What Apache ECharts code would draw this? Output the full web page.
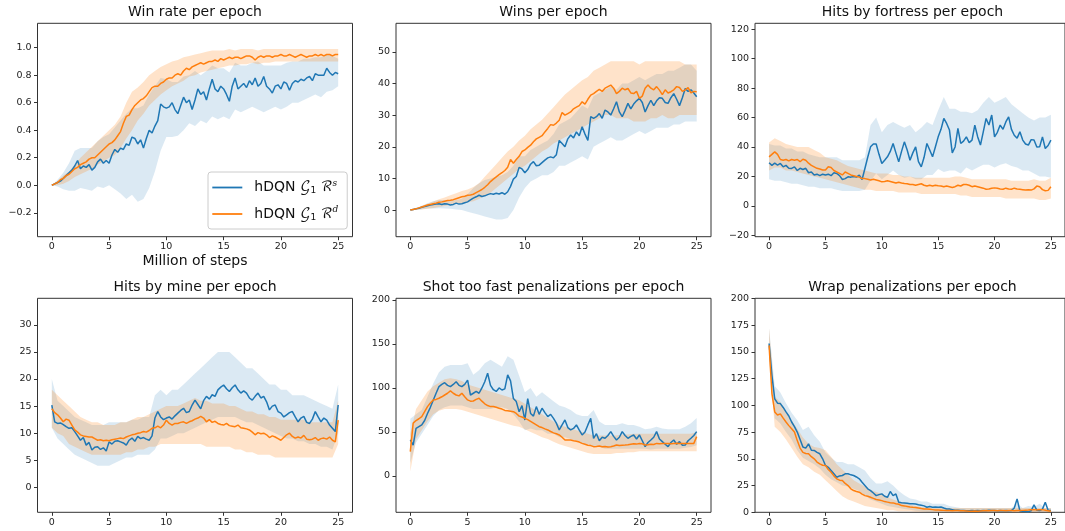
<!DOCTYPE html>
<html><head><meta charset="utf-8">
<script src="https://cdn.jsdelivr.net/npm/echarts@6/dist/echarts.min.js"></script>
<style>html,body{margin:0;padding:0;background:#fff}#c{width:1065px;height:531px}</style>
</head><body><div id="c"></div>
<script>
// x sampling (million of steps): means every 0.25, bands every 0.5
const STEP_MEAN = 0.25, STEP_BAND = 0.5;
const xTicks = [0, 5, 10, 15, 20, 25];
const titles = ['Win rate per epoch', 'Wins per epoch', 'Hits by fortress per epoch',
  'Hits by mine per epoch', 'Shot too fast penalizations per epoch', 'Wrap penalizations per epoch'];
const xLabel = 'Million of steps';
const seriesNames = ['S', 'D'];

// ---- Win rate ----
const winS = [0,0.01,0.02,0.03,0.05,0.07,0.09,0.11,0.14,0.18,0.12,
 0.14,0.13,0.15,0.11,0.13,0.17,0.19,0.16,0.18,0.16,
 0.22,0.26,0.24,0.27,0.26,0.3,0.29,0.35,0.34,0.3,
 0.33,0.27,0.34,0.4,0.38,0.43,0.47,0.59,0.57,0.56,
 0.57,0.6,0.55,0.52,0.58,0.64,0.6,0.62,0.55,0.62,
 0.7,0.66,0.68,0.62,0.7,0.77,0.7,0.68,0.72,0.7,
 0.66,0.61,0.72,0.78,0.7,0.72,0.74,0.71,0.76,0.73,
 0.78,0.72,0.74,0.79,0.72,0.7,0.67,0.72,0.73,0.7,
 0.75,0.74,0.69,0.74,0.76,0.75,0.77,0.76,0.78,0.79,
 0.76,0.81,0.8,0.8,0.8,0.85,0.82,0.8,0.82,0.81];
const winD = [0,0.01,0.02,0.04,0.05,0.07,0.08,0.1,0.12,0.13,0.15,
 0.16,0.17,0.19,0.2,0.2,0.22,0.24,0.26,0.28,0.3,
 0.31,0.33,0.36,0.39,0.45,0.5,0.51,0.55,0.58,0.6,
 0.62,0.63,0.65,0.68,0.71,0.72,0.72,0.74,0.75,0.77,
 0.78,0.78,0.8,0.81,0.8,0.83,0.85,0.84,0.86,0.87,
 0.88,0.89,0.88,0.89,0.9,0.9,0.91,0.9,0.92,0.91,
 0.92,0.93,0.92,0.93,0.93,0.92,0.93,0.94,0.94,0.93,
 0.91,0.93,0.94,0.93,0.94,0.94,0.93,0.94,0.94,0.95,
 0.94,0.94,0.95,0.94,0.93,0.94,0.95,0.94,0.93,0.94,
 0.94,0.95,0.94,0.95,0.94,0.95,0.95,0.94,0.95,0.95];
const winS_lo = [0,-0.01,-0.03,-0.04,-0.04,-0.02,-0.03,-0.04,-0.01,-0.02,
 0,-0.03,-0.06,-0.1,-0.07,-0.12,-0.1,-0.02,0.1,0.25,
 0.35,0.35,0.36,0.4,0.45,0.43,0.47,0.45,0.5,0.48,
 0.5,0.48,0.55,0.53,0.55,0.57,0.55,0.53,0.55,0.57,
 0.55,0.57,0.6,0.6,0.62,0.64,0.66,0.64,0.68,0.69,0.72];
const winS_hi = [0,0.04,0.09,0.16,0.25,0.27,0.27,0.27,0.32,0.35,
 0.37,0.42,0.47,0.52,0.56,0.56,0.58,0.66,0.72,0.78,
 0.77,0.75,0.75,0.79,0.8,0.83,0.8,0.83,0.87,0.85,
 0.85,0.82,0.89,0.87,0.87,0.89,0.9,0.87,0.87,0.87,
 0.87,0.89,0.9,0.9,0.92,0.92,0.93,0.93,0.95,0.94,0.92];
const winD_lo = [0,0,0.01,0.03,0.06,0.08,0.1,0.12,0.15,0.17,
 0.2,0.22,0.27,0.34,0.4,0.47,0.52,0.58,0.62,0.66,
 0.69,0.72,0.74,0.76,0.79,0.8,0.82,0.83,0.84,0.85,
 0.86,0.87,0.87,0.88,0.88,0.89,0.88,0.89,0.89,0.9,
 0.9,0.9,0.9,0.9,0.9,0.9,0.9,0.9,0.9,0.9,0.9];
const winD_hi = [0,0.03,0.07,0.1,0.15,0.2,0.24,0.28,0.32,0.36,
 0.4,0.44,0.5,0.6,0.68,0.71,0.75,0.8,0.83,0.86,
 0.88,0.9,0.91,0.93,0.94,0.95,0.96,0.97,0.98,0.98,
 0.98,0.99,0.98,0.99,0.99,0.99,0.98,0.99,0.99,0.99,
 0.99,0.99,0.99,0.99,0.99,0.99,0.99,0.99,0.99,0.99,0.99];

// ---- Wins ----
const winsS = [0,0.2,0.4,0.6,0.9,1.1,1.4,1.6,1.8,1.9,2.0,
 1.8,2.0,1.9,1.6,1.8,2.2,1.9,2.0,2.3,2.6,
 3.2,3.8,4.2,4.7,4.3,4.5,4.9,5.2,5.0,5.3,
 5.1,5.5,5.0,5.8,7.5,9.8,10.6,13.5,13.0,11.8,
 12.8,14.5,15.3,14.0,14.2,15.0,15.8,16.5,16.8,16.5,
 17.5,22.0,21.0,20.0,22.5,23.7,22.8,24.7,23.5,26.3,
 24.0,22.0,29.5,29.0,29.5,30.5,29.0,31.6,31.0,30.0,
 32.0,34.2,31.0,29.5,31.5,33.7,32.0,33.5,34.5,35.3,
 34.0,31.0,33.0,34.7,33.0,34.5,35.5,35.3,34.0,33.7,
 35.5,36.8,35.0,33.0,35.5,38.4,37.5,38.0,37.0,35.8];
const winsD = [0,0.2,0.4,0.7,1.0,1.3,1.6,1.8,2.0,2.2,2.5,
 2.6,2.8,3.0,3.1,3.3,3.6,3.9,4.2,4.4,4.7,
 4.8,5.0,5.5,6.0,6.5,7.2,8.0,9.0,9.8,10.5,
 11.2,11.8,12.5,13.5,16.0,14.8,16.0,17.0,18.5,19.0,
 19.8,20.5,21.6,22.5,23.0,23.5,24.7,25.8,27.0,26.8,
 27.5,28.4,30.8,30.0,30.5,31.0,32.0,32.5,33.0,34.2,
 33.5,35.0,36.3,36.8,37.5,38.1,37.5,38.5,39.0,39.5,
 38.5,36.8,37.5,38.5,38.0,38.4,37.0,36.8,37.5,35.3,
 36.0,38.5,39.5,38.5,38.0,39.0,37.9,36.5,38.0,37.0,
 37.4,38.0,39.0,38.7,37.5,38.0,38.7,37.0,37.5,37.4];
const winsS_lo = [0,0.1,0.3,0.5,0.5,0.6,0.5,0.4,0.2,0,
 -0.5,-1,-1.5,-2,-2.5,-3,-3,-2.5,0,4,
 7,9,10,11,11,12,14,14,15,16,
 17,16,20,21,22,23,22,22,23,24,
 25,24,25,26,26,26,27,27,28,28,28];
const winsS_hi = [0,0.5,1.4,2.2,2.8,3.2,3.2,3.2,3.2,3.6,
 5,7,8.5,9.5,10,10.5,11,12,14,17,
 17,19,20,21,22,24,27,28,29,31,
 33,32,36,37,38,39,38,40,40,41,
 42,41,42,43,43,44,44,45,46,46,44];
const winsD_lo = [0,0.1,0.2,0.4,0.7,1,1.3,1.6,1.9,2.2,
 2.5,2.8,3.5,4.5,5.5,7,8.5,10,11.5,13,
 14,15.5,17,18.5,19.5,21,22,23,24,25,
 26,27,28,29,30,30,29,29,29,28,
 28,28,29,29,30,29,29,30,30,30,30];
const winsD_hi = [0,0.6,1.2,2,2.7,3.4,4,4.7,5.3,6,
 6.5,7.3,8.5,10.5,12.5,14.5,16.5,18.5,20,22,
 23.5,25.5,27,28.5,30.5,32.5,34.5,36.5,38,39.5,
 41,42,44,45,46,47,47,47,47,47,
 46,47,47,47,47,47,47,47,46,46,46];

// ---- Hits by fortress ----
const fortS = [29.3,27.5,29,27.7,28.8,26.5,27.5,25.5,25.4,26.5,24,
 25.5,24.7,25.5,22.5,23,20.9,21.5,20.5,21.5,20.9,
 21.5,20.5,22.5,22,20.5,17.9,18.5,19.7,19.5,20,
 19.5,20.9,17.9,25.4,33,40.1,42,42,35,28.8,
 31,33.3,37,42.4,36,29.9,37,43.5,38,31,
 36,40.1,30,26.5,33,42.4,38,33.3,40,46.9,
 52,59.4,56,51.5,36,40,52.6,42.4,44,46.9,
 43,44.7,54.9,47,41.3,50.3,59.4,55,61.7,46.9,
 50,54.9,52,57,60.5,52,48,46,50.3,44.7,
 42,41.3,45,44.7,40,40.1,46.9,39,41,44.7];
const fortD = [33.3,35,36.7,35,31.5,31,31.5,30.5,31.5,31,31.5,
 30,31.7,31,29,27.5,26.5,25.5,25,24.3,24.3,
 26.5,26,24,23,22,21,23,22,21,20.5,
 20,19.5,18.6,18.5,18,17.5,18,17.5,17,16.3,
 16.5,17,16.5,16,15.5,16,15.5,15.2,15,14.5,
 14.5,14,14.5,15,14,13.5,14,13.5,14,13.6,
 13.5,13,13.5,13,12.5,13,14,13.5,14.5,14.5,
 14,13,13.5,13,12.5,12,11.3,11.5,12,12.2,
 12,11.5,11.3,12,11.5,11.3,12,11.5,11.3,11,
 10.7,11,10.7,11.5,13.4,13,11,10.2,10.5,13];
const fortS_lo = [18,17,17,16,15,15,14,13,13,12,
 12,12,11,10,10,10,10,11,17,22,
 18,21,24,21,19,20,18,18,21,21,
 25,23,24,24,22,26,24,26,28,28,
 26,28,29,27,26,24,24,22,20,20,19];
const fortS_hi = [42,41,41,39,39,37,37,35,34,33,
 33,33,33,31,31,31,31,33,55,60,
 50,55,57,55,53,55,50,53,57,55,
 65,74,66,66,64,64,63,65,70,74,
 70,72,74,69,66,63,60,58,60,60,62];
const fortD_lo = [24,26,26,24,24,23,22,21,20,19,
 18,17,16,15,14,13,12,11,11,10,
 10,10,10,9,9,9,9,8,8,8,
 8,8,8,8,7,7,6,6,6,6,
 6,6,5,5,5,5,5,5,4,4,5];
const fortD_hi = [43,46,44,42,41,40,40,40,38,36,
 33,32,31,29,27,26,25,24,23,22,
 22,22,21,21,20,20,19,19,19,19,
 19,19,19,20,20,19,18,18,18,18,
 18,18,18,17,17,17,17,18,17,17,19];

// ---- Hits by mine ----
const mineS = [15.2,12.1,11.8,11.9,11.6,11.2,10.9,11.0,10.3,9.5,8.7,
 9.2,7.8,8.3,6.9,7.4,7.5,7.0,7.3,6.7,8.4,
 8.0,8.5,8.6,8.4,8.2,7.8,8.7,9.1,8.5,9.4,
 9.0,9.2,8.9,8.7,9.5,12.8,14.0,13.0,12.5,12.8,
 13.0,12.6,13.2,13.7,14.2,14.6,13.8,14.0,15.2,16.1,
 15.3,14.5,16.0,16.8,16.3,17.1,16.8,18.0,18.5,18.9,
 18.2,17.7,18.4,18.9,18.0,17.4,17.8,17.4,16.5,16.1,
 16.8,17.4,16.5,16.8,15.8,14.3,15.0,15.2,14.0,13.7,
 13.0,13.4,13.8,14.0,13.0,12.1,12.8,13.1,12.0,11.8,
 12.6,14.0,13.0,12.1,12.8,12.4,11.5,10.9,10.3,15.2];
const mineD = [14.5,13.8,13.4,12.8,12.1,12.6,12.4,11.5,10.6,10.2,9.7,
 9.5,9.4,9.3,9.3,9.0,8.7,8.8,8.6,8.7,8.6,
 8.8,8.9,9.0,9.1,9.0,9.3,9.5,9.7,9.8,10.0,
 10.1,10.3,10.2,10.5,10.9,11.0,11.3,11.0,11.5,12.4,
 11.8,11.5,11.8,11.8,12.0,12.1,11.8,12.1,12.3,12.6,
 12.8,13.1,12.8,12.1,12.5,12.0,12.2,11.8,11.6,11.5,
 11.8,11.4,11.3,11.2,11.5,11.0,10.9,10.8,10.6,10.2,
 9.7,10.1,9.9,10.0,9.7,9.2,9.5,9.3,9.0,8.7,
 9.2,9.7,10.0,9.4,9.1,9.3,9.1,9.6,8.9,8.8,
 8.9,9.2,8.7,9.0,9.1,8.9,9.3,8.7,8.4,12.4];
const mineS_lo = [11,9,8,7,6,5.5,5,4.5,4,4,
 4,4.5,5,5.5,5.5,6,6,6,7,9,
 9,9.5,10,10,10.5,11,11.5,12,12.5,13,
 13,13,13,12.5,12,12,11.5,11,10.5,10,
 9.5,9,9,8.5,8.5,8,8,7.5,7.5,7,10];
const mineS_hi = [20,16,15,14,13,12.5,12,11.5,11.5,11.5,
 12,12,12,12,12.5,12.5,13,13,17,18,
 17,18,18,19,20,21,22,23,24,25,
 25,25,24,23,22,22,21,20,19,19,
 18,18,17,17,17,16.5,16,15.5,15,14.5,19];
const mineD_lo = [11,10,9.5,8,7.5,7,6.5,6,6,6,
 6,6,6,6.5,6.5,7,7,7.5,7.5,8,
 8,8,8,8,8,8,8,7.5,7.5,7.5,
 7.5,7.5,7,7,6.5,6.5,6,6,6,5.5,
 5.5,5.5,5.5,5.5,5.5,5.5,5.5,5.5,5.5,5.5,8];
const mineD_hi = [18,17,16,15,14,13,12.5,12,12,11.5,
 11.5,11.5,12,12,12.5,13,13,13.5,14,14.5,
 15,15,15,15.5,16,16.5,16,16,15.5,15.5,
 15.5,15,15,14.5,14,14,13.5,13.5,13,13,
 12.5,12.5,12.5,12.5,12.5,12,12,12,12,12,16];

// ---- Shot too fast ----
const shotS = [40.9,35,54,56,58,63,71,78,86,94,101.5,
 104,106,103,101.5,104,107,103,101.5,104,109,
 92,94,96,94,100,107,116.7,103,98,96,
 100,97.7,99,114.8,108,88,84.5,73,80,63.6,
 88,71,68,78.8,70,77,72,67.4,70,65.5,
 60,52.3,58,63.6,55,52.3,54,58,52,46.6,
 50,58,65.5,42.8,48,40,44,42.8,46,50.4,
 45,40.9,44,50.4,46,42.8,45,46.6,42,46.6,
 40,33.3,38,40.9,44,50.4,42,39,36,33.3,
 38,40.9,36,39,35,35.2,40,42.8,46,50.4];
const shotD = [27.7,60,63,65,67.4,73,78.8,83,86.4,87,88.3,
 90,92,94,96.6,94,92,91,94,90,86.4,
 85,85.2,87,88.3,85,82,80,78.8,79,78,
 77,76,74.5,74,73.5,73,71,68,67,65.5,
 64,62,60,58,56,55,53.5,52.3,50.5,49,
 48,46.6,44,40.9,41,40.9,40,39.5,38.5,37,
 36,35,34.5,33.3,33.5,34,33.3,33.5,33,33.3,
 34,35.2,34.5,35,35.2,35.5,36,36.5,36.2,37,
 36.5,35.2,35.5,36,35.8,37,36.5,36.8,37,37,
 36.5,37,37.2,37,36.8,37,37,36.8,37,44.7];
const shotS_lo = [15,38,48,58,68,75,78,80,80,80,
 78,76,76,76,76,78,78,76,70,62,
 52,54,52,52,48,48,44,44,42,40,
 36,36,33,33,31,31,31,31,31,31,
 31,31,30,31,31,31,31,31,32,33,35];
const shotS_hi = [65,70,75,90,105,118,124,126,126,126,
 128,115,120,128,132,128,124,136,132,114,
 95,100,90,95,90,85,80,78,75,70,
 68,68,75,62,58,58,58,60,58,58,
 56,53,54,56,54,53,53,53,56,60,66];
const shotD_lo = [5,42,52,62,70,74,76,76,76,75,
 73,71,69,67,65,63,61,59,57,56,
 53,50,47,44,42,39,36,34,32,30,
 28,26,25,25,25,25,26,26,27,27,
 28,28,28,28,28,28,28,28,28,28,28];
const shotD_hi = [48,76,86,96,102,106,110,111,110,108,
 104,102,100,98,96,94,92,90,88,86,
 82,78,74,70,66,62,58,56,54,52,
 50,48,46,46,46,46,46,47,47,48,
 48,48,48,48,48,48,48,48,48,48,50];

// ---- Wrap penalizations ----
const wrapS = [157.8,128,106,102,101.6,98,93.8,90,84.4,80,75,
 68,61,60,64,58,57.8,56,54.7,50,43.8,
 42,39,36,32.8,34,34.4,36,36,35,34.4,
 33,31.3,28,25,22,20.3,18,15.6,16.5,17.2,
 15,14,19.4,15.6,17.2,9.4,9,8.8,8.5,8,
 8,7.8,7,6.5,6,4.7,5.5,4.7,5,4.7,
 5,4,3.1,3,2.5,2,2,1.6,1.6,1.5,
 1.5,1.6,1.5,1.6,1.5,1.6,1.5,2,1.6,1.6,
 1.5,1.6,1.5,1.6,1.5,1.6,4,12.5,1.2,1,
 0.8,0.6,1.5,6.9,2,1.6,3,9.4,2,1.6];
const wrapD = [156,111,93.8,91,92,88,84.4,81,78,75,67,
 60,56,55,54.7,52,50,47,45.3,44,43.8,
 40,37.5,34,31.3,30,29.7,27,25,22,20.3,
 19.5,18.8,17,15.6,15,14,13,12,11.5,10.9,
 10,9.5,9,8.8,8,7.5,6.3,6,5.5,5,
 4.7,4.5,4,3.5,3.1,3,2.8,2.5,2.2,2.2,
 2,1.8,1.6,1.6,1.5,1.6,1.6,1.5,1.4,1.2,
 1,0.9,1.2,1,1.3,1.5,1.6,1.4,1.6,1.6,
 1.5,1.6,1.6,1.5,1.6,1.6,1.5,1.6,1.6,1.8,
 2,2.2,2.5,2.5,2.2,2.5,2.5,2,1.5,0.9];
const wrapS_lo = [145,88,83,75,68,58,51,48,45,41,
 35,31,28,25,24,22,20,16,12,10,
 8,6,5,4,3,2.5,1.5,1,0.5,0.5,
 0.5,0,0,0,0,0,0,0,0,0,
 0,0,0,0,0,0,0,0,0,0,0];
const wrapS_hi = [172,118,112,102,93,86,77,80,72,66,
 56,51,47,47,45,45,42,39,32,27,
 27,29,25,20,16,13,12,10,10,8,
 8,8,6,5,4,4,4,4,4,4,
 4,4,4,4,8,4,6,5,8,4,4];
const wrapD_lo = [145,80,75,68,60,52,45,42,38,35,
 30,25,20,15,12,10,8,6,5,4,
 3,2,2,1,1,1,0.5,0.5,0.5,0.5,
 0,0,0,0,0,0,0,0,0,0,
 0,0,0,0,0,0,0,0,0,0,0];
const wrapD_hi = [172,108,103,93,86,78,70,64,61,60,
 58,52,45,40,35,30,27,24,21,19,
 17,14,12,10,9,7,6,5,4.5,4.5,
 4,4,4,4,4,4,4,4,4,4,
 4,4,4,4,4,4,4,4,4,4,4];

// tick values per panel
const yTicks = [
  [-0.2, 0, 0.2, 0.4, 0.6, 0.8, 1.0],
  [0, 10, 20, 30, 40, 50],
  [-20, 0, 20, 40, 60, 80, 100, 120],
  [0, 5, 10, 15, 20, 25, 30],
  [0, 50, 100, 150, 200],
  [0, 25, 50, 75, 100, 125, 150, 175, 200]
];

const panelData = [
  { means: [winS, winD], bands: [[winS_lo, winS_hi], [winD_lo, winD_hi]] },
  { means: [winsS, winsD], bands: [[winsS_lo, winsS_hi], [winsD_lo, winsD_hi]] },
  { means: [fortS, fortD], bands: [[fortS_lo, fortS_hi], [fortD_lo, fortD_hi]] },
  { means: [mineS, mineD], bands: [[mineS_lo, mineS_hi], [mineD_lo, mineD_hi]] },
  { means: [shotS, shotD], bands: [[shotS_lo, shotS_hi], [shotD_lo, shotD_hi]] },
  { means: [wrapS, wrapD], bands: [[wrapS_lo, wrapS_hi], [wrapD_lo, wrapD_hi]] }
];

// ---- layout / style ----
const layout = {
  lefts: [37.5, 396, 755], tops: [23.3, 298.3], width: 315, heights: [213.4, 214],
  yRange: [[-0.374, 1.177], [-8.4, 59.0], [-21, 124.1], [-4.6, 34.9], [-41.3, 201.9], [0, 200]],
  decimals: [1, 0, 0, 0, 0, 0]
};
const COLORS = ['#1f77b4', '#ff7f0e'];
const BAND_FILL = ['rgba(31,119,180,0.16)', 'rgba(255,127,14,0.22)'];
const FONT = "'DejaVu Sans', 'Noto Sans', sans-serif";
const MATHFONT = "'DejaVu Serif', 'DejaVu Math TeX Gyre', 'DejaVu Sans', serif";

const grids = [], xAxes = [], yAxes = [], series = [], graphics = [];
const fmt = (d) => (v) => Number(v).toFixed(d).replace('-', '\u2212');

panelData.forEach((p, k) => {
  const col = k % 3, row = Math.floor(k / 3);
  const g = { left: layout.lefts[col], top: layout.tops[row], width: layout.width, height: layout.heights[row],
    show: true, borderColor: '#333', borderWidth: 1, backgroundColor: '#fff', containLabel: false };
  grids.push(g);
  xAxes.push({
    type: 'value', gridIndex: k, min: -1.25, max: 26.25, position: 'bottom',
    axisLine: { show: false, onZero: false }, splitLine: { show: false },
    axisTick: { show: true, length: 3.5, inside: false, lineStyle: { color: '#333' }, customValues: xTicks },
    axisLabel: { show: true, margin: 5, fontSize: 9.5, color: '#222', fontFamily: FONT, customValues: xTicks,
      formatter: fmt(0) },
    name: k === 0 ? xLabel : '', nameLocation: 'middle', nameGap: 18,
    nameTextStyle: { fontSize: 14, color: '#111', fontFamily: FONT }
  });
  yAxes.push({
    type: 'value', gridIndex: k, min: layout.yRange[k][0], max: layout.yRange[k][1], position: 'left',
    axisLine: { show: false, onZero: false }, splitLine: { show: false },
    axisTick: { show: true, length: 3.5, inside: false, lineStyle: { color: '#333' }, customValues: yTicks[k] },
    axisLabel: { show: true, margin: 6, fontSize: 9.5, color: '#222', fontFamily: FONT, customValues: yTicks[k],
      formatter: fmt(layout.decimals[k]) }
  });
  // bands
  p.bands.forEach((b, s) => {
    const lo = b[0], hi = b[1];
    series.push({
      type: 'custom', xAxisIndex: k, yAxisIndex: k, silent: true, z: 1,
      data: [[0, 0]],
      renderItem: (params, api) => {
        const pts = [];
        for (let i = 0; i < hi.length; i++) pts.push(api.coord([i * STEP_BAND, hi[i]]));
        for (let i = lo.length - 1; i >= 0; i--) pts.push(api.coord([i * STEP_BAND, lo[i]]));
        return { type: 'polygon', shape: { points: pts }, style: { fill: BAND_FILL[s], stroke: null } };
      }
    });
  });
  // mean lines
  p.means.forEach((m, s) => {
    series.push({
      type: 'line', name: seriesNames[s], xAxisIndex: k, yAxisIndex: k, z: 3 + s,
      data: m.map((v, i) => [i * STEP_MEAN, v]),
      symbol: 'none', showSymbol: false, smooth: false,
      lineStyle: { width: 1.5, color: COLORS[s] }, itemStyle: { color: COLORS[s] }
    });
  });
  graphics.push({
    type: 'text', x: g.left + g.width / 2, y: row === 0 ? 12 : 287,
    style: { text: titles[k], fill: '#111', font: '14px ' + FONT, textAlign: 'center', textVerticalAlign: 'middle' }
  });
});

const chart = echarts.init(document.getElementById('c'), null, { renderer: 'canvas' });
chart.setOption({
  animation: false,
  backgroundColor: '#fff',
  grid: grids, xAxis: xAxes, yAxis: yAxes, series: series,
  graphic: graphics,
  legend: {
    data: seriesNames.map((n, s) => ({ name: n, icon: 'rect', itemStyle: { color: COLORS[s] } })),
    left: 208, top: 172, orient: 'vertical',
    itemWidth: 30, itemHeight: 1.8, itemGap: 10, padding: [7, 9, 7, 4.3],
    borderColor: '#ccc', borderWidth: 1, borderRadius: 3, backgroundColor: 'rgba(255,255,255,0.85)',
    selectedMode: false,
    formatter: (name) => name === 'S'
      ? '{t|hDQN} {m|\u{1D4A2}}{sub|1} {m|\u211B}{sup|s}'
      : '{t|hDQN} {m|\u{1D4A2}}{sub|1} {m|\u211B}{sup|d}',
    textStyle: {
      fontFamily: FONT, fontSize: 14, color: '#111', padding: [0, 0, 0, 7],
      rich: {
        t: { fontFamily: FONT, fontSize: 14, color: '#111' },
        m: { fontFamily: MATHFONT, fontSize: 14, color: '#111' },
        sub: { fontFamily: FONT, fontSize: 9, color: '#111', padding: [7, 0, 0, 0] },
        sup: { fontFamily: MATHFONT, fontSize: 9, fontStyle: 'italic', color: '#111', padding: [0, 0, 8, 0] }
      }
    }
  }
});
</script>
</body></html>
